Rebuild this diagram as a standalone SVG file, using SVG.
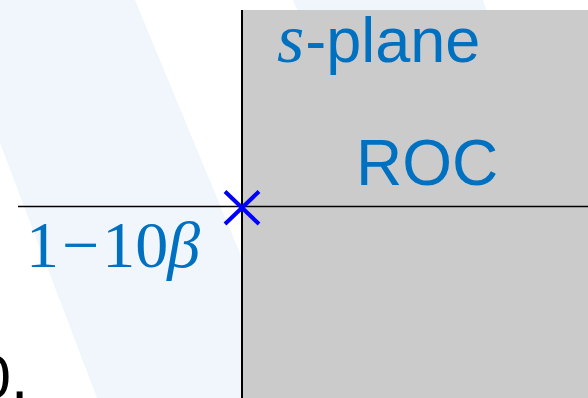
<svg xmlns="http://www.w3.org/2000/svg" width="588" height="398" viewBox="0 0 588 398">
  <style>
    .band { fill: #f0f6fb; }
    .axis { stroke: #000; fill: none; }
    .lbl { fill: #0070c0; }
    .sans { font-family: "Liberation Sans", Arial, sans-serif; }
    .serif { font-family: "Liberation Serif", "Times New Roman", serif; }
  </style>
  <rect width="588" height="398" fill="#fff"/>
  <g id="watermark">
    <polygon class="band" points="0,0 135,0 300,398 97,398 0,143"/>
    <polygon class="band" points="293,0 483,0 487,12 298,12"/>
  </g>
  <g id="roc-region">
    <rect x="243" y="10" width="345" height="388" fill="#cbcbcb"/>
  </g>
  <g id="connectors">
    <line class="axis" x1="18" y1="206.5" x2="588" y2="206.5" stroke-width="1.3"/>
    <line class="axis" x1="242" y1="10" x2="242" y2="398" stroke="#3a3a3a" stroke-width="2"/>
  </g>
  <g id="pole">
    <path d="M225,191.5 L259,224 M259,191.5 L225,224" stroke="#0000ff" stroke-width="4" fill="none"/>
  </g>
  <g id="splane-label">
    <text class="lbl" y="61.5" font-size="63"><tspan class="serif" font-style="italic" font-size="70" x="277">s</tspan><tspan class="sans" dx="1">-plane</tspan></text>
  </g>
  <g id="roc-label">
    <text class="lbl sans" x="356" y="185" font-size="64">ROC</text>
  </g>
  <g id="pole-label">
    <text class="lbl serif" x="26" y="267" font-size="66">1<tspan dx="3">−</tspan><tspan dx="3">10</tspan><tspan font-style="italic" dx="-1">β</tspan></text>
  </g>
  <g id="clipped-text">
    <text class="sans" x="-23.5" y="398" font-size="62" fill="#000">0.</text>
  </g>
</svg>
